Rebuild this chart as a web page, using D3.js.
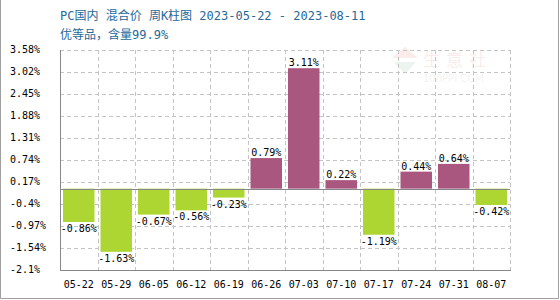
<html>
<head>
<meta charset="utf-8">
<title>PC周K柱图</title>
<style>
  body { margin: 0; background: #fff; }
  .grid { stroke: #c4c4c4; stroke-dasharray: 4,3; shape-rendering: crispEdges; }
  .axisline { stroke: #888; shape-rendering: crispEdges; }
  .tick-label { font-family: "DejaVu Sans Mono", monospace; font-size: 10px; fill: #000; }
  .title { font-family: "DejaVu Sans Mono", "Noto Sans CJK SC", monospace; font-size: 12px; fill: #26689a; }
</style>
</head>
<body>
<script src="https://d3js.org/d3.v7.min.js"></script>
<script>
// weekly change, PC domestic mixed price
var weeks  = ["05-22", "05-29", "06-05", "06-12", "06-19", "06-26", "07-03", "07-10", "07-17", "07-24", "07-31", "08-07"];
var change = [-0.86, -1.63, -0.67, -0.56, -0.23, 0.79, 3.11, 0.22, -1.19, 0.44, 0.64, -0.42];
var yTickLabels = ["-2.1%", "-1.54%", "-0.97%", "-0.4%", "0.17%", "0.74%", "1.31%", "1.88%", "2.45%", "3.02%", "3.58%"];
var yMin = -2.1, yMax = 3.58;

var W = 560, H = 300;
var margin = {top: 50, right: 50, bottom: 30, left: 60},
    width  = W - margin.left - margin.right,
    height = H - margin.top - margin.bottom;

var svg = d3.select("body").append("svg")
    .attr("width", W)
    .attr("height", H);

// outer frame (left, right, bottom)
svg.append("path")
    .attr("d", "M0.5,0 V298.5 H558.5 V0")
    .attr("fill", "none")
    .attr("stroke", "#a0a0a0");

// title
svg.append("text").attr("class", "title")
    .attr("x", 60).attr("y", 20)
    .text("PC国内 混合价 周K柱图 2023-05-22 - 2023-08-11");
svg.append("text").attr("class", "title")
    .attr("x", 60).attr("y", 39)
    .text("优等品，含量99.9%");

var chart = svg.append("g")
    .attr("transform", "translate(" + margin.left + "," + margin.top + ")");

var yScale = d3.scaleLinear().domain([yMin, yMax]).range([height, 0]);
var yTicks = d3.range(yTickLabels.length).map(function(i){ return yMin + i * (yMax - yMin) / (yTickLabels.length - 1); });

var xScale = d3.scaleBand().domain(weeks).range([0, width])
    .paddingInner(0.16).paddingOuter(0.08);
var xGrid = d3.scaleBand().domain(weeks).range([0, width]).padding(0);

// watermark
var wm = chart.append("g").attr("opacity", 0.09);
wm.append("path").attr("d", "M332,8 L345,-3 L358,8 Z").attr("fill", "#c0392b");
wm.append("path").attr("d", "M334,12 L356,12 L345,24 Z").attr("fill", "#2e8b57");
wm.append("text").attr("x", 363).attr("y", 16)
    .style("font-family", "Noto Sans CJK SC").style("font-size", "17px").style("letter-spacing", "6px")
    .attr("fill", "#c0392b").text("生意社");
wm.append("text").attr("x", 363).attr("y", 32)
    .style("font-family", "DejaVu Sans").style("font-size", "10px")
    .attr("fill", "#888").text("100PPI.COM");

// horizontal grid
chart.selectAll(".hgrid")
    .data(yTicks.slice(1))
    .enter().append("line")
    .attr("class", "grid")
    .attr("x1", 0).attr("x2", width)
    .attr("y1", function(d){ return Math.round(yScale(d)) + 0.5; })
    .attr("y2", function(d){ return Math.round(yScale(d)) + 0.5; });

// vertical grid at band boundaries
chart.selectAll(".vgrid")
    .data(weeks)
    .enter().append("line")
    .attr("class", "grid")
    .attr("x1", function(d){ return Math.round(xGrid(d) + xGrid.bandwidth()) + 0.5; })
    .attr("x2", function(d){ return Math.round(xGrid(d) + xGrid.bandwidth()) + 0.5; })
    .attr("y1", 0).attr("y2", height);

// bars
chart.selectAll(".bar")
    .data(change)
    .enter().append("rect")
    .attr("x", function(d, i){ return xScale(weeks[i]); })
    .attr("y", function(d){ return yScale(Math.max(0, d)); })
    .attr("width", xScale.bandwidth())
    .attr("height", function(d){ return Math.abs(yScale(d) - yScale(0)); })
    .attr("fill", function(d){ return d >= 0 ? "#aa5780" : "#add633"; });

// zero line
chart.append("line").attr("class", "axisline")
    .attr("x1", 0).attr("x2", width)
    .attr("y1", Math.round(yScale(0)) + 0.5).attr("y2", Math.round(yScale(0)) + 0.5);

// bar value labels
chart.selectAll(".vlabel")
    .data(change)
    .enter().append("text")
    .attr("class", "tick-label")
    .attr("text-anchor", "middle")
    .attr("x", function(d, i){ return xScale(weeks[i]) + xScale.bandwidth() / 2; })
    .attr("y", function(d){ return d >= 0 ? yScale(d) - 2 : yScale(d) + 10; })
    .text(function(d){ return d.toFixed(2) + "%"; });

// axes
var yAxis = chart.append("g")
    .call(d3.axisLeft(yScale).tickValues(yTicks).tickSize(0)
        .tickFormat(function(d, i){ return yTickLabels[i]; }));
yAxis.select(".domain").remove();
yAxis.selectAll("text")
    .attr("class", "tick-label")
    .attr("text-anchor", "start")
    .attr("x", -50)
    .attr("dy", "0.2em")
    .style("font-family", null).style("font-size", null);

var xAxis = chart.append("g")
    .attr("transform", "translate(0," + height + ")")
    .call(d3.axisBottom(xScale).tickSize(0));
xAxis.select(".domain").remove();
xAxis.selectAll("text")
    .attr("class", "tick-label")
    .attr("y", 11)
    .attr("dy", "0.71em");

// plot frame: left and bottom solid
chart.append("path")
    .attr("d", "M0.5,0 V" + (height + 0.5) + " H" + (width + 1))
    .attr("fill", "none")
    .attr("class", "axisline");
</script>
</body>
</html>
